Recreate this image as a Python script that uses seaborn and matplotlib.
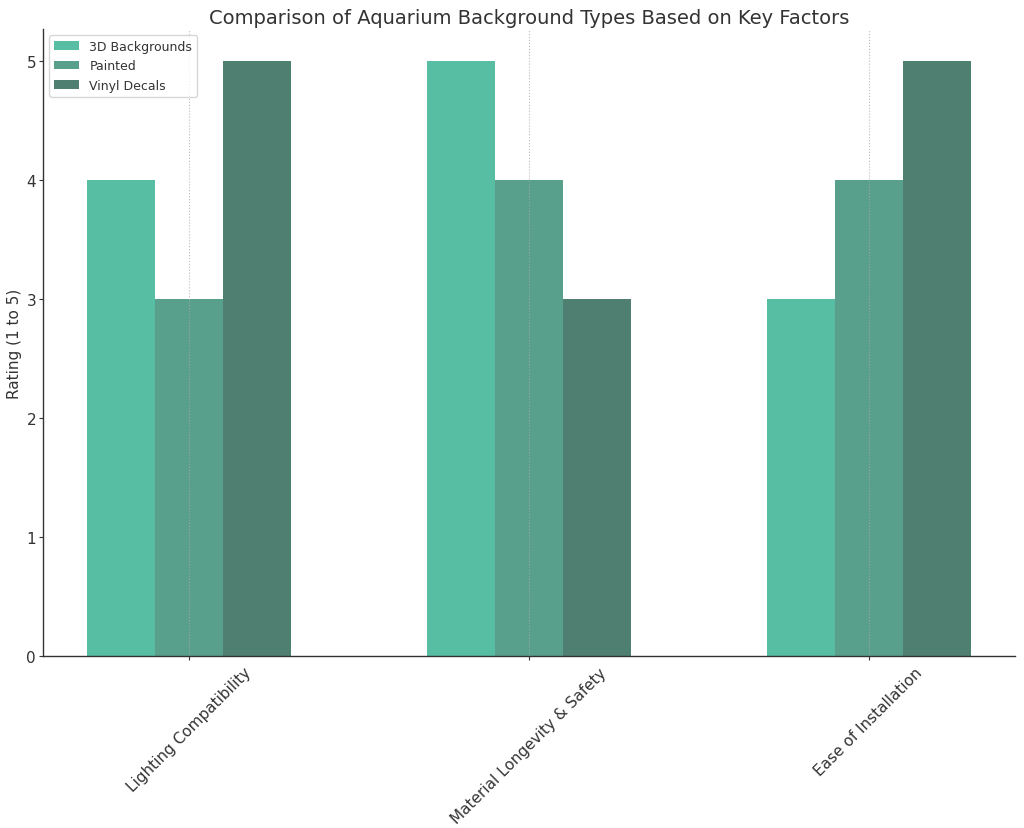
import matplotlib
matplotlib.use("Agg")
import matplotlib.pyplot as plt
import seaborn as sns
import pandas as pd

factors = ["Lighting Compatibility", "Material Longevity & Safety", "Ease of Installation"]
types = ["3D Backgrounds", "Painted", "Vinyl Decals"]
ratings_3d = [4, 5, 3]
ratings_painted = [3, 4, 4]
ratings_vinyl = [5, 3, 5]

rows = []
for t, vals in zip(types, [ratings_3d, ratings_painted, ratings_vinyl]):
    for f, v in zip(factors, vals):
        rows.append({"Factor": f, "Type": t, "Rating": v})
df = pd.DataFrame(rows)

sns.set_style("white")
plt.rcParams['font.family'] = ['DejaVu Sans']

fig, ax = plt.subplots(figsize=(10.24, 8.29), dpi=100)
fig.subplots_adjust(left=0.042, right=0.991, top=0.964, bottom=0.207)

palette = ["#57BEA3", "#58A08B", "#4F7F70"]
sns.barplot(data=df, x="Factor", y="Rating", hue="Type", palette=palette,
            width=0.6, gap=0, saturation=1, ax=ax, errorbar=None, linewidth=0)

ax.set_xlim(-0.43, 2.43)
ax.set_ylim(0, 5.27)
ax.set_yticks([0, 1, 2, 3, 4, 5])
ax.set_xlabel("")
ax.set_ylabel("Rating (1 to 5)", fontsize=11, color="#333333", labelpad=3)
ax.set_title("Comparison of Aquarium Background Types Based on Key Factors",
             fontsize=14, color="#333333", pad=4)
ax.tick_params(axis="y", labelsize=11, colors="#333333", length=3, pad=2, left=True)
ax.tick_params(axis="x", labelsize=11, colors="#333333", length=3, pad=3, bottom=True)
plt.setp(ax.get_xticklabels(), rotation=45, ha="center")

ax.set_axisbelow(False)
ax.xaxis.grid(True, linestyle=":", color="#aaaaaa", linewidth=0.8, alpha=0.8)
ax.yaxis.grid(False)
for s in ["top", "right"]:
    ax.spines[s].set_visible(False)
for s in ["left", "bottom"]:
    ax.spines[s].set_color("#333333")
    ax.spines[s].set_linewidth(1.0)

leg = ax.legend(loc="upper left", fontsize=9, frameon=True, title=None,
                borderaxespad=0.5, handlelength=2.0)
leg.get_frame().set_edgecolor("#cccccc")
for t in leg.get_texts():
    t.set_color("#333333")

fig.savefig("out.png", dpi=100)
